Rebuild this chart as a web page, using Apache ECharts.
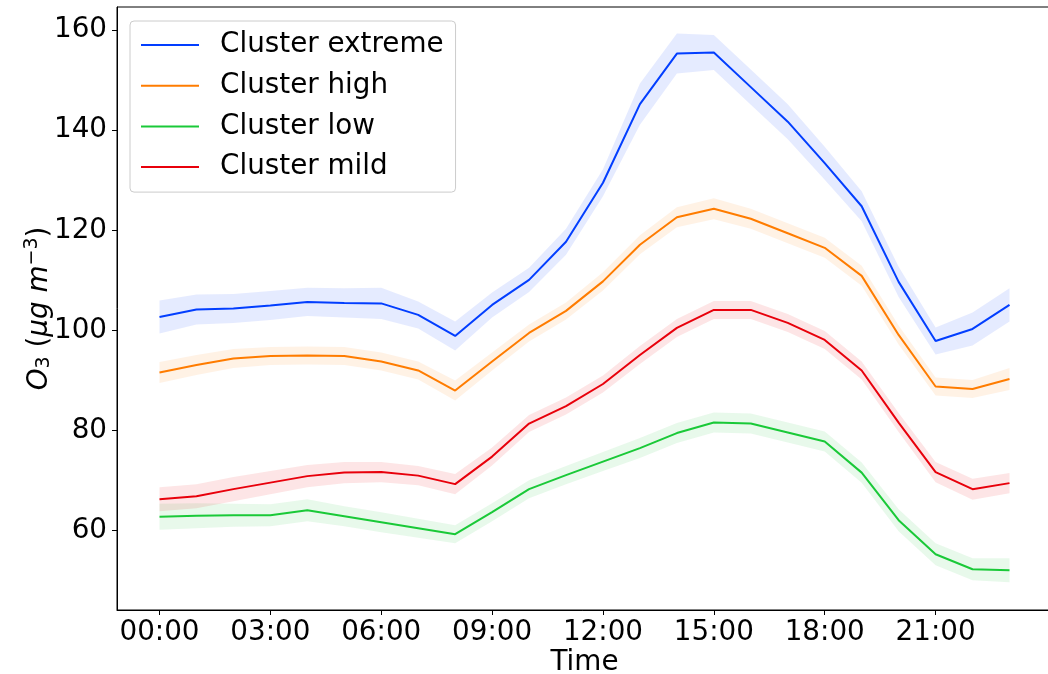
<!DOCTYPE html>
<html>
<head>
<meta charset="utf-8">
<script src="https://cdn.jsdelivr.net/npm/echarts@6/dist/echarts.min.js"></script>
<style>
html,body{margin:0;padding:0;background:#fff;}
#chart{width:1048px;height:674px;}
</style>
</head>
<body>
<div id="chart"></div>
<script>
const hours = [0,1,2,3,4,5,6,7,8,9,10,11,12,13,14,15,16,17,18,19,20,21,22,23];
const xTickValues = [0,3,6,9,12,15,18,21];
const xTickLabels = ['00:00','03:00','06:00','09:00','12:00','15:00','18:00','21:00'];
const yTickValues = [60,80,100,120,140,160];

const seriesNames = ['Cluster extreme','Cluster high','Cluster low','Cluster mild'];
const seriesColors = ['#023eff','#ff7c00','#1ac938','#e8000b'];

const extremeMean = [102.7,104.2,104.4,105.0,105.7,105.5,105.4,103.1,98.9,105.1,110.1,117.7,129.5,145.2,155.3,155.5,148.6,141.7,133.4,124.8,109.7,97.9,100.3,105.1];
const extremeHalf = [3.3,3.0,2.9,2.9,2.8,2.9,3.1,2.7,2.9,2.5,2.4,2.6,2.7,4.1,4.0,3.5,3.5,3.5,3.3,3.0,3.0,2.7,3.3,3.3];

const highMean = [91.6,93.1,94.4,94.9,95.0,94.9,93.8,92.0,88.0,93.8,99.5,103.9,109.8,117.1,122.6,124.3,122.3,119.4,116.5,110.9,99.1,88.8,88.3,90.3];
const highHalf = [2.1,2.0,1.9,1.8,1.8,1.8,1.8,1.8,2.0,1.8,1.7,1.7,1.8,1.9,2.0,2.1,2.0,2.0,2.0,2.0,1.9,1.8,1.8,2.2];

const lowMean = [62.8,63.0,63.1,63.1,64.1,62.9,61.7,60.5,59.3,63.7,68.3,71.1,73.8,76.5,79.5,81.6,81.4,79.6,77.8,71.6,62.1,55.3,52.3,52.1];
const lowHalf = [2.6,2.5,2.3,2.2,2.2,2.0,2.0,1.9,1.8,1.8,1.8,1.8,1.9,2.0,2.0,2.0,2.0,2.0,2.0,2.0,2.2,2.2,2.2,2.4];

const mildMean = [66.3,66.9,68.3,69.6,70.9,71.6,71.7,71.0,69.3,74.8,81.4,84.9,89.3,95.1,100.5,104.1,104.1,101.5,98.1,92.0,81.6,71.7,68.3,69.5];
const mildHalf = [2.4,2.4,2.4,2.3,2.2,2.1,2.0,1.9,2.0,1.8,1.7,1.7,1.7,1.8,1.8,1.8,1.8,1.8,1.8,1.8,1.9,2.0,2.1,2.0];

const means = [extremeMean, highMean, lowMean, mildMean];
const halves = [extremeHalf, highHalf, lowHalf, mildHalf];

const FONT = 'DejaVu Sans';
const FS = 27.8;

function bandSeries(idx) {
  const m = means[idx], h = halves[idx];
  const data = hours.map((x, i) => [x, +(m[i] - h[i]).toFixed(2), +(m[i] + h[i]).toFixed(2)]);
  return {
    type: 'custom',
    name: seriesNames[idx] + ' band',
    silent: true,
    z: 1,
    encode: { x: 0, y: [1, 2] },
    data: data,
    renderItem: function (params, api) {
      if (params.dataIndex !== 0) return null;
      const n = data.length;
      const top = [], bot = [];
      for (let i = 0; i < n; i++) {
        top.push(api.coord([api.value(0, i), api.value(2, i)]));
        bot.push(api.coord([api.value(0, i), api.value(1, i)]));
      }
      const pts = top.concat(bot.reverse());
      return {
        type: 'polygon',
        shape: { points: pts },
        style: { fill: seriesColors[idx], opacity: 0.1, stroke: null }
      };
    }
  };
}

function lineSeries(idx) {
  return {
    type: 'line',
    name: seriesNames[idx],
    data: hours.map((x, i) => [x, means[idx][i]]),
    showSymbol: false,
    symbol: 'none',
    z: 3,
    color: seriesColors[idx],
    lineStyle: { width: 2, color: seriesColors[idx] },
    emphasis: { disabled: true },
    animation: false
  };
}

const series = [];
for (let i = 0; i < 4; i++) series.push(bandSeries(i));
for (let i = 0; i < 4; i++) series.push(lineSeries(i));

const chart = echarts.init(document.getElementById('chart'), null, { renderer: 'canvas' });
chart.setOption({
  animation: false,
  backgroundColor: '#fff',
  textStyle: { fontFamily: FONT, color: '#000' },
  grid: {
    left: 117, right: -4, top: 7, bottom: 64,
    containLabel: false,
    outerBoundsMode: 'none',
    show: true, borderColor: '#000', borderWidth: 1, backgroundColor: 'transparent'
  },
  legend: {
    data: seriesNames,
    orient: 'vertical',
    left: 130, top: 21,
    padding: [10, 12, 11, 11],
    itemGap: 12.7,
    itemWidth: 58, itemHeight: 2,
    icon: 'rect',
    backgroundColor: 'rgba(255,255,255,0.8)',
    borderColor: '#cccccc', borderWidth: 1, borderRadius: 4,
    textStyle: { fontFamily: FONT, fontSize: FS, color: '#000', padding: [0, 0, 0, 16] }
  },
  xAxis: {
    type: 'value',
    min: -1.15, max: 24.15,
    name: 'Time',
    nameLocation: 'middle',
    nameGap: 39,
    nameMoveOverlap: false,
    nameTextStyle: { fontFamily: FONT, fontSize: FS, color: '#000' },
    splitLine: { show: false },
    axisLine: { show: true, onZero: false, lineStyle: { color: '#000', width: 1 } },
    axisTick: { show: true, length: 5, inside: false, customValues: xTickValues, lineStyle: { color: '#000' } },
    axisLabel: {
      show: true, margin: 9, fontFamily: FONT, fontSize: FS, color: '#000',
      customValues: xTickValues,
      formatter: function (v) { const k = xTickValues.indexOf(v); return k >= 0 ? xTickLabels[k] : ''; }
    }
  },
  yAxis: {
    type: 'value',
    min: 44.16, max: 164.6,
    name: '{i|O}{sub|3} ({i|μg m}{sup|−3})',
    nameLocation: 'middle',
    nameRotate: 90,
    nameGap: 61,
    nameMoveOverlap: false,
    nameTextStyle: {
      fontFamily: FONT, fontSize: FS, color: '#000',
      rich: {
        i: { fontFamily: FONT, fontSize: FS, fontStyle: 'italic', color: '#000' },
        sub: { fontFamily: FONT, fontSize: 19, color: '#000', padding: [10, 0, 0, 0] },
        sup: { fontFamily: FONT, fontSize: 19, color: '#000', padding: [0, 0, 14, 0] }
      }
    },
    splitLine: { show: false },
    axisLine: { show: true, onZero: false, lineStyle: { color: '#000', width: 1 } },
    axisTick: { show: true, length: 5, inside: false, customValues: yTickValues, lineStyle: { color: '#000' } },
    axisLabel: {
      show: true, margin: 10, fontFamily: FONT, fontSize: FS, color: '#000',
      customValues: yTickValues
    }
  },
  series: series
});
</script>
</body>
</html>
